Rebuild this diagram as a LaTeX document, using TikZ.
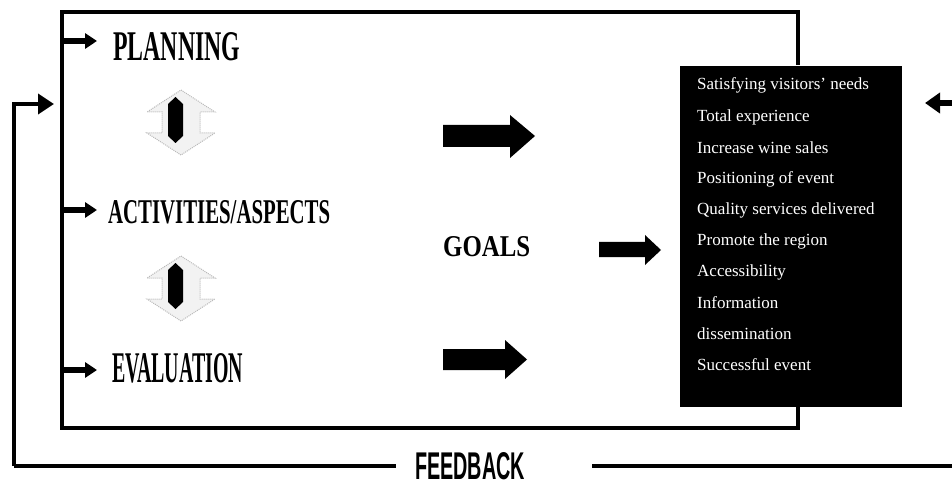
\documentclass[tikz,border=0pt]{standalone}
\usepackage{fontspec}
\setmainfont{Liberation Serif}
\newfontfamily\fbfont{Liberation Sans}
\usetikzlibrary{arrows.meta}
\newcommand{\hdtext}[3]{\resizebox{#1}{#2}{\bfseries #3}}
\tikzset{
  thick line/.style={line width=3.6pt},
  small arr/.style={line width=6.5pt,-{Triangle[length=12pt,width=15pt]}},
  fb arr/.style={line width=3.6pt,-{Triangle[length=16pt,width=20pt]}},
  head/.style={inner sep=0pt,anchor=west},
  listtext/.style={text=white,font=\fontsize{17}{20}\selectfont,anchor=west,inner sep=0pt},
  dblout/.style={fill=gray!10,draw=gray!55,line width=1pt,densely dotted},
  blockarr/.style={fill=black,draw=none}
}
\begin{document}
\begin{tikzpicture}[x=1pt,y=-1pt]
\useasboundingbox (0,0) rectangle (952,486);
% main box
\coordinate (btr) at (798,65);
\coordinate (bbr) at (798,407);
\draw[thick line] (btr) -- (798,12) -- (62,12) -- (62,428) -- (798,428) -- (bbr);
% goals box
\node[fill=black,minimum width=222pt,minimum height=341pt,inner sep=0pt,anchor=north west] (goalbox) at (680,66) {};
\foreach \t/\y in {Satisfying visitors’ needs/85,Total experience/117,Increase wine sales/148,Positioning of event/179,Quality services delivered/210,Promote the region/241,Accessibility/272,Information/303,dissemination/334,Successful event/365}
  \node[listtext] at (697,\y) {\t};
% headings
\node[head] (plan) at (113,47) {\hdtext{127pt}{28pt}{PLANNING}};
\node[head] (act) at (108,212) {\hdtext{222pt}{23pt}{ACTIVITIES/ASPECTS}};
\node[head] (eval) at (112,368) {\hdtext{131pt}{29pt}{EVALUATION}};
\node[head] (goals) at (443,247) {\hdtext{87pt}{20pt}{GOALS}};
% small arrows from box edge
\coordinate (s1) at (62,41);
\coordinate (s2) at (62,210);
\coordinate (s3) at (62,370);
\draw[small arr] (s1) -- ([xshift=-16pt]s1 -| plan.west);
\draw[small arr] (s2) -- ([xshift=-11pt]s2 -| act.west);
\draw[small arr] (s3) -- ([xshift=-15pt]s3 -| eval.west);
% double arrows
\foreach \oy in {0,166}{
  \begin{scope}[yshift=-\oy pt]
  \path[dblout] (181,90) -- (215,112) -- (200,112) -- (200,133) -- (215,133) -- (181,155) -- (147,133) -- (162,133) -- (162,112) -- (147,112) -- cycle;
  \fill (175.5,97) -- (183,104) -- (183,136) -- (175.5,143) -- (168,136) -- (168,104) -- cycle;
  \end{scope}
}
% block arrows
\fill[blockarr] (443,125) -- (510,125) -- (510,115) -- (535,136) -- (510,158) -- (510,147) -- (443,147) -- cycle;
\fill[blockarr] (599,242) -- (645,242) -- (645,235) -- (661,250) -- (645,265) -- (645,257) -- (599,257) -- cycle;
\fill[blockarr] (443,349) -- (505,349) -- (505,340) -- (527,359.5) -- (505,379) -- (505,370) -- (443,370) -- cycle;
% feedback
\node[inner sep=0pt] (fb) at (470,466) {\fbfont\resizebox{110pt}{27pt}{\bfseries FEEDBACK}};
\coordinate (fl) at (14,466);
\coordinate (fin) at (54,104);
\coordinate (fr) at (952,466);
\coordinate (rin) at (952,103);
\coordinate (rtip) at (925,103);
\draw[thick line] ([xshift=-19pt]fb.west) -- (fl);
\draw[fb arr] (fl) -- (14,104) -- (fin);
\draw[thick line] ([xshift=67pt]fb.east) -- (fr);
\draw[small arr,line width=6pt,-{Triangle[length=15pt,width=20pt]}] (rin) -- (rtip);
\end{tikzpicture}
\end{document}
